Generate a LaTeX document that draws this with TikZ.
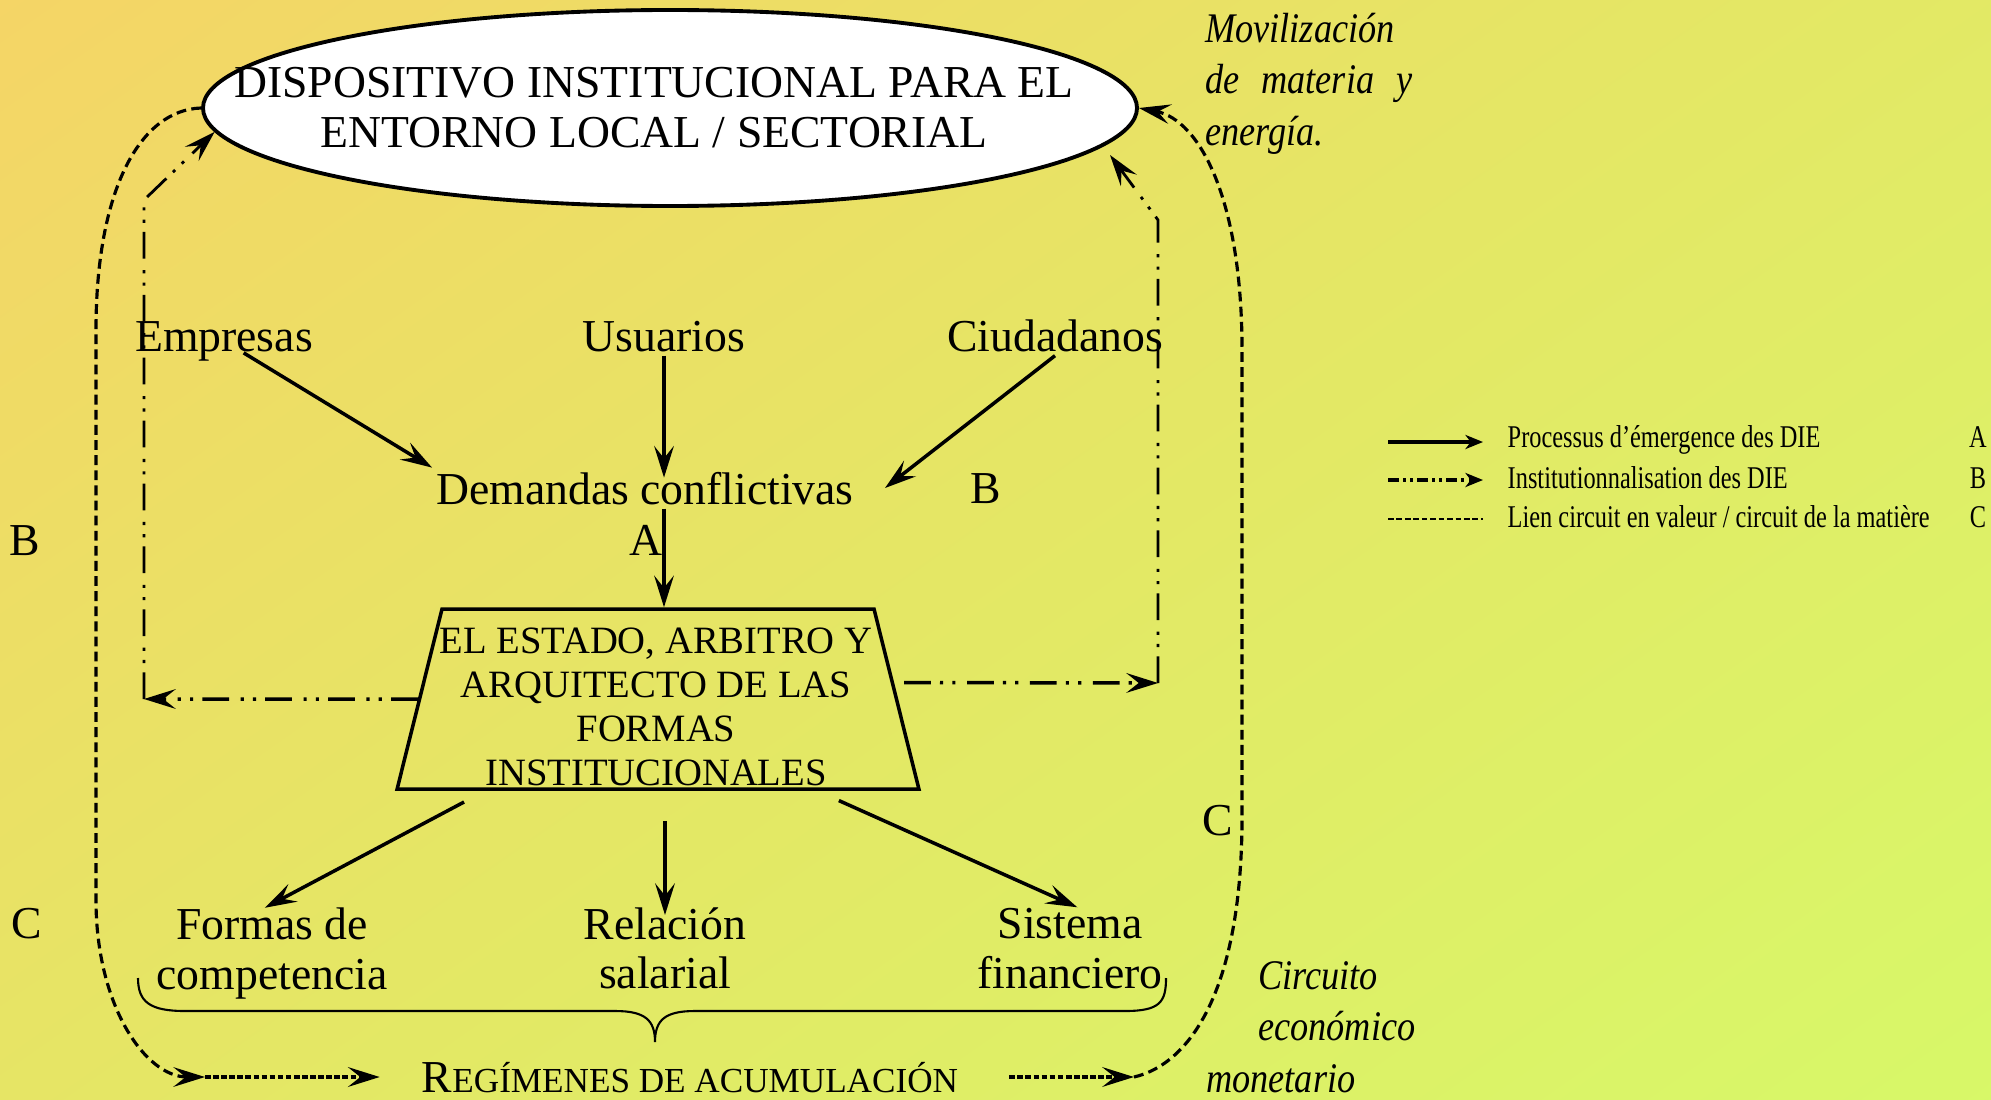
\documentclass[tikz,border=0pt]{standalone}
\usepackage{fontspec}
\setmainfont{Liberation Serif}
\newfontfamily\legfont{Liberation Serif}[FakeStretch=0.77]
\newfontfamily\notefont{Liberation Serif}[FakeStretch=0.86]
\usetikzlibrary{arrows.meta,shapes.geometric}
\definecolor{bgtop}{RGB}{252,205,102}
\definecolor{bgmid}{RGB}{228,231,101}
\definecolor{bgbot}{RGB}{210,255,106}
\pgfdeclareverticalshading{bgshade}{100bp}{color(0bp)=(bgbot); color(50bp)=(bgmid); color(100bp)=(bgtop)}
\begin{document}
\begin{tikzpicture}[x=0.1mm,y=-0.1mm,
		txt/.style={font=\fontsize{13}{14.2}\selectfont, inner sep=1pt, align=center},
		note/.style={font=\notefont\fontsize{12}{14.6}\selectfont\itshape, inner sep=1pt, align=left},
		leg/.style={font=\legfont\fontsize{9}{11}\selectfont, inner sep=0pt},
		tip/.style={-{Stealth[length=9pt,width=5.6pt,inset=3.5pt]}},
		ltip/.style={-{Stealth[length=5pt,width=4pt,inset=1.5pt]}},
		proc/.style={tip, line width=1pt},
		inst/.style={tip, dash pattern=on 7.6pt off 2.6pt on 0.9pt off 2.6pt on 0.9pt off 3.3pt},
		circ/.style={tip, line width=0.9pt, dash pattern=on 2.8pt off 1.5pt},
		circh/.style={tip, line width=1.2pt, dash pattern=on 1.6pt off 0.7pt}]
		\useasboundingbox (0,0) rectangle (1991,1099);
		\shade[shading=bgshade, shading angle=35] (0,0) rectangle (1991,1099);
		% ellipse and trapezium
		\node[ellipse, draw, fill=white, line width=1.1pt, minimum width=93.4mm, minimum height=19.6mm, inner sep=0pt] (die) at (670,108) {};
		\node[txt, anchor=north] (dietxt) at (654,63) {DISPOSITIVO INSTITUCIONAL PARA EL\\ENTORNO LOCAL / SECTORIAL};
		\node[trapezium, draw, line width=1pt, trapezium left angle=76, trapezium right angle=76, inner sep=0pt] (estado) at (658,699) {\phantom{\rule{43.2mm}{18mm}}};
		\node[font=\fontsize{11}{12.5}\selectfont, inner sep=1pt, align=center, anchor=north] (estadotxt) at (656,624) {EL ESTADO, ARBITRO Y\\ARQUITECTO DE LAS\\FORMAS\\INSTITUCIONALES};
		% actors and labels
		\node[txt, anchor=base] (empresas) at (224,351) {Empresas};
		\node[txt, anchor=base] (usuarios) at (664,351) {Usuarios};
		\node[txt, anchor=base] (ciudadanos) at (1055,351) {Ciudadanos};
		\node[txt, anchor=base] (demandas) at (645,504) {Demandas conflictivas};
		\node[txt, anchor=base] (labA) at (646,555) {A};
		\node[txt, anchor=base] (labB) at (986,503) {B};
		\node[txt, anchor=base] (labBl) at (25,555) {B};
		\node[txt, anchor=base] (labCl) at (27,938) {C};
		\node[txt, anchor=base] (labCr) at (1218,835) {C};
		\node[txt, anchor=north] (formas) at (272,904) {Formas de\\competencia};
		\node[txt, anchor=north] (relacion) at (665,903) {Relación\\salarial};
		\node[txt, anchor=north] (sistema) at (1070,904) {Sistema\\financiero};
		\node[txt, anchor=base] (regimen) at (690,1092) {{\fontsize{13}{14}\selectfont R}{\fontsize{10}{12}\selectfont EGÍMENES DE ACUMULACIÓN}};
		\node[note, anchor=north west] (movil) at (1201,9) {Movilización\\\makebox[20.7mm][s]{de materia y}\\energía.};
		\node[note, anchor=north west] (circuito) at (1254,957) {Circuito\\económico};
		\node[note, anchor=base west] (monetario) at (1202,1092) {monetario};
		% legend
		\node[leg, anchor=base west] (legA) at (1507,447) {Processus d’émergence des DIE};
		\node[leg, anchor=base west] (legB) at (1507,488) {Institutionnalisation des DIE};
		\node[leg, anchor=base west] (legC) at (1507,527) {Lien circuit en valeur / circuit de la matière};
		\node[leg, anchor=base] (keyA) at (1978,447) {A};
		\node[leg, anchor=base] (keyB) at (1978,488) {B};
		\node[leg, anchor=base] (keyC) at (1978,527) {C};
		\coordinate (ka) at (1388,442);
		\coordinate (kb) at (1388,480);
		\coordinate (kc) at (1388,519);
		\draw[ltip, line width=1pt, shorten >=2.4mm] (ka) -- (ka -| legA.west);
		\draw[ltip, line width=1pt, dash pattern=on 3pt off 1.3pt on 0.7pt off 1.3pt on 0.7pt off 1.3pt, shorten >=2.4mm] (kb) -- (kb -| legB.west);
		\draw[line width=0.8pt, dash pattern=on 1.6pt off 0.8pt, shorten >=2.4mm] (kc) -- (kc -| legC.west);
		% A: emergence
		\coordinate (dtip) at (885,488);
		\draw[proc, shorten <=2.3mm] (empresas.center) -- (demandas.north west);
		\draw[proc, shorten >=-1mm] (usuarios) -- (usuarios |- demandas.north);
		\draw[proc] (ciudadanos.south) -- (dtip);
		\draw[proc] (usuarios |- demandas.south) -- (usuarios |- estado.north);
		\draw[proc, shorten <=2.4mm, shorten >=-0.8mm] (estado) -- (formas.north);
		\draw[proc, shorten <=3mm, shorten >=-1.2mm] (relacion |- estado.south) -- (relacion.north);
		\draw[proc, shorten <=2.4mm, shorten >=-0.8mm] (estado.-30) -- (sistema.north);
		% brace
		\draw[line width=0.6pt] (138,978) .. controls (138,1002) and (150,1011) .. (185,1011) -- (615,1011) .. controls (645,1011) and (655,1020) .. (655,1042) .. controls (655,1020) and (665,1011) .. (695,1011) -- (1125,1011) .. controls (1160,1011) and (1166,1002) .. (1166,978);
		% B: institutionalisation
		\coordinate (bl) at (144,699);
		\coordinate (blup) at (144,200);
		\coordinate (br) at (1158,683);
		\coordinate (brup) at (1158,220);
		\coordinate (brtip) at (1110,155);
		\draw[inst, line width=1pt] (estado.180) -- (bl);
		\draw[inst, line width=0.8pt] (bl) -- (blup) -- (die.183);
		\draw[inst, line width=1pt, shorten <=1mm] (estado.4) -- (br);
		\draw[inst, line width=0.8pt] (br) -- (brup) -- (brtip);
		% C: circuits
		\coordinate (cl) at (205,1077);
		\coordinate (cr) at (1134,1077);
		\draw[circ] (die.west) .. controls (140,110) and (96,190) .. (96,330) -- (96,900) .. controls (96,1005) and (145,1077) .. (cl);
		\draw[circh, shorten >=3.8mm] (cl) -- (cl -| regimen.west);
		\draw[circh, shorten <=4.7mm] (cr -| regimen.east) -- (cr);
		\draw[circ] (cr) .. controls (1190,1064) and (1242,990) .. (1242,817) -- (1242,350) .. controls (1242,200) and (1200,120) .. (die.east);
	\end{tikzpicture}
\end{document}
